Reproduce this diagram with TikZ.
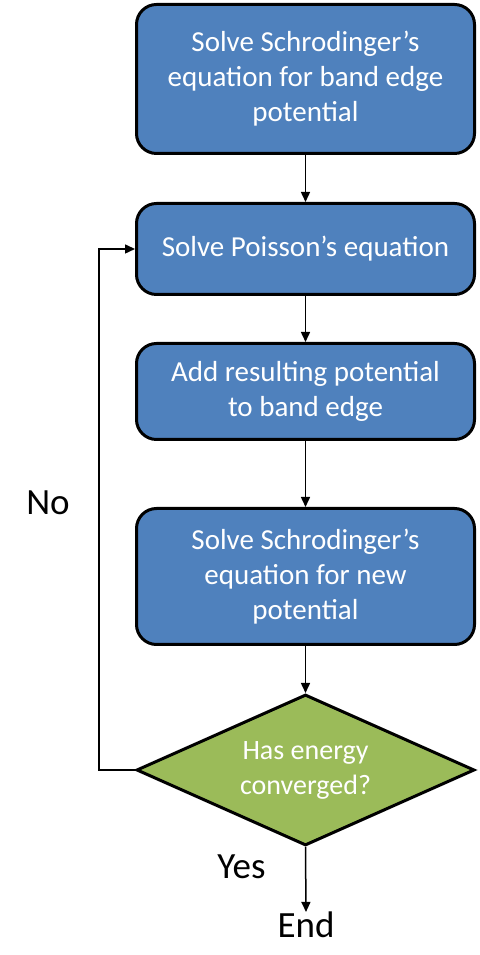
\documentclass[tikz,border=0pt]{standalone}
\usepackage{fontspec}
\setmainfont{Carlito}
\usepackage{tikz}
\usetikzlibrary{shapes,arrows.meta}
\definecolor{procblue}{HTML}{4F81BD}
\definecolor{decgreen}{HTML}{9BBB59}
\tikzset{proc/.style={rectangle,rounded corners=20pt,draw,line width=3pt,fill=procblue,text=white,align=center,font=\fontsize{29}{35}\selectfont,minimum width=338pt}}
\tikzset{dec/.style={diamond,draw,line width=3pt,fill=decgreen,text=white,align=center,font=\fontsize{28}{35}\selectfont,minimum width=338pt,minimum height=151pt,inner sep=0pt,aspect=2.2}}
\tikzset{lbl/.style={font=\fontsize{37}{40}\selectfont}}

\begin{document}
\begin{tikzpicture}[x=1pt,y=1pt,>={Triangle[length=10pt,width=9pt]},line width=1.5pt]
    \useasboundingbox (0,0) rectangle (479,955);
    \node[proc,minimum height=149pt] (schr) at (305.5,876) {Solve Schrodinger’s\\equation for band edge\\potential};
    \node[proc,minimum height=91pt] (pois) at (305.5,706) {Solve Poisson’s equation};
    \node[proc,minimum height=96pt] (add) at (305.5,563.5) {Add resulting potential\\to band edge};
    \node[proc,minimum height=136pt] (newpot) at (305.5,378.5) {Solve Schrodinger’s\\equation for new\\potential};
    \node[dec] (conv) at (305.5,185) {Has energy\\converged?};
    \node[lbl] (end) at (306,30) {End};
    \node[lbl] (no) at (48,452) {No};

    \draw [->] (schr) to [] (pois);
    \draw [->] (pois) to [] (add);
    \draw [->] (add) to [] (newpot);
    \draw [->] (newpot) to [] (conv);
    \draw [->] (conv.south) to []node[lbl,left=36pt,pos=0.3]{Yes} ([yshift=-4pt]end.north);
    \draw [->] (conv.west) -- ++(-36,0) |- (pois.west);
\end{tikzpicture}
\end{document}
